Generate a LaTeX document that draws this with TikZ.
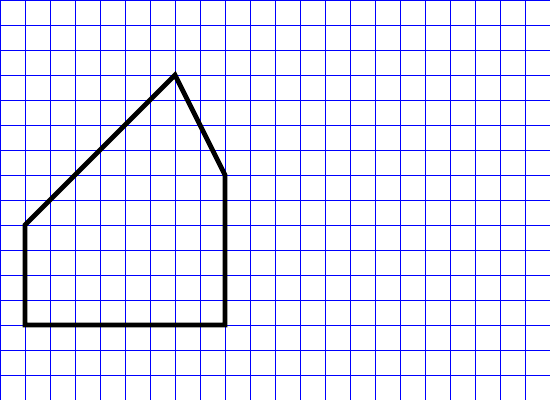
\documentclass[tikz,border=0pt]{standalone}
\usepackage{amsmath}
\usepackage[dvipsnames]{xcolor}

\begin{document}
\begin{tikzpicture}[scale=1]
\useasboundingbox (0,0) rectangle (22,16);
%quadrillage
\draw [line width=1.1pt, blue] (0,0) grid[step=1] (22,16);

%la maison
\draw [line width=5.5pt, black, line join=miter] (1,3) -- (1,7) -- (7,13) -- (9,9) -- (9,3) -- cycle;

\end{tikzpicture}
\end{document}
